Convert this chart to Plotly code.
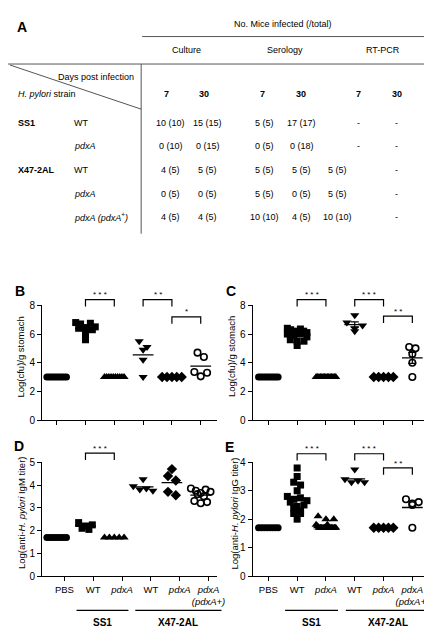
import numpy as np
import plotly.graph_objects as go

W, H = 432, 629
FONT = "Liberation Sans, Arial, sans-serif"

# ---------------- data: table (panel A) ----------------
methods = ["Culture", "Serology", "RT-PCR"]
days = ["7", "30", "7", "30", "7", "30"]
strains = ["SS1", "", "X47-2AL", "", ""]
genotypes = ["WT", "<i>pdxA</i>", "WT", "<i>pdxA</i>", "<i>pdxA (pdxA</i><sup>+</sup><i>)</i>"]
infected = [
    ["10 (10)", "15 (15)", "5 (5)", "17 (17)", "-", "-"],
    ["0 (10)", "0 (15)", "0 (5)", "0 (18)", "-", "-"],
    ["4 (5)", "5 (5)", "5 (5)", "5 (5)", "5 (5)", "-"],
    ["0 (5)", "0 (5)", "5 (5)", "0 (5)", "5 (5)", "-"],
    ["4 (5)", "4 (5)", "10 (10)", "4 (5)", "10 (10)", "-"],
]

# ---------------- data: dot plots ----------------
group_labels = ["PBS", "WT", "<i>pdxA</i>", "WT", "<i>pdxA</i>", "<i>pdxA</i><br><i>(pdxA+)</i>"]
symbols = ["circle", "square", "triangle-up", "triangle-down", "diamond", "circle-open"]

# B: Log(cfu)/g stomach, day 7
b_pbs = [3.0] * 10
b_ss1_wt = [6.8, 6.75, 6.7, 6.5, 6.45, 6.4, 6.3, 6.2, 6.0, 5.6]
b_ss1_pdxa = [3.0] * 10
b_x47_wt = [5.5, 5.1, 4.9, 4.2, 3.0]
b_x47_pdxa = [3.0] * 5
b_x47_comp = [4.7, 4.4, 3.35, 3.3, 3.05]

# C: Log(cfu)/g stomach, day 30
c_pbs = [3.0] * 10
c_ss1_wt = [6.4, 6.35, 6.3, 6.2, 6.2, 6.1, 6.1, 6.0, 6.0, 5.9, 5.8, 5.6, 5.5, 5.5, 5.2]
c_ss1_pdxa = [3.0] * 15
c_x47_wt = [7.3, 6.8, 6.6, 6.4, 6.2]
c_x47_pdxa = [3.0] * 5
c_x47_comp = [5.1, 5.0, 4.6, 4.0, 3.0]

# D: Log(anti-H. pylori IgM titer)
d_pbs = [1.7] * 8
d_ss1_wt = [2.35, 2.25, 2.2, 2.1, 2.05]
d_ss1_pdxa = [1.7] * 5
d_x47_wt = [4.25, 3.95, 3.85, 3.8, 3.75]
d_x47_pdxa = [4.7, 4.4, 4.2, 3.7, 3.55]
d_x47_comp = [3.85, 3.8, 3.75, 3.7, 3.65, 3.6, 3.5, 3.3, 3.25, 3.2]

# E: Log(anti-H. pylori IgG titer)
e_pbs = [1.7] * 8
e_ss1_wt = [3.8, 3.5, 3.3, 3.2, 3.0, 2.8, 2.75, 2.7, 2.65, 2.6, 2.5, 2.45, 2.4, 2.3, 2.2, 2.2, 2.0]
e_ss1_pdxa = [2.1, 2.0, 2.0, 1.8, 1.8, 1.75] + [1.7] * 12
e_x47_wt = [3.75, 3.4, 3.35, 3.3, 3.3]
e_x47_pdxa = [1.7] * 5
e_x47_comp = [2.7, 2.6, 2.55, 2.5, 1.7]

# significance brackets: (group a, group b, level, stars)
b_sig = [(1, 2, 8.4, "* * *"), (3, 4, 8.4, "* *"), (4, 5, 7.2, "*")]
c_sig = [(1, 2, 8.4, "* * *"), (3, 4, 8.4, "* * *"), (4, 5, 7.25, "* *")]
d_sig = [(1, 2, 5.4, "* * *")]
e_sig = [(1, 2, 4.3, "* * *"), (3, 4, 4.3, "* * *"), (4, 5, 3.8, "* *")]

# ---------------- panel geometry (pixels) ----------------
panels = {
    "B": dict(ax="", data=[b_pbs, b_ss1_wt, b_ss1_pdxa, b_x47_wt, b_x47_pdxa, b_x47_comp],
              x=(35, 213), y=(414, 297), xr=(-0.5, 5.55), yr=(0, 8), yt=[0, 2, 4, 6, 8],
              sig=b_sig, sem=False, labels=False, tickshift=0.0,
              title="Log(cfu)/g stomach", tx=13, letter=(12, 282)),
    "C": dict(ax="2", data=[c_pbs, c_ss1_wt, c_ss1_pdxa, c_x47_wt, c_x47_pdxa, c_x47_comp],
              x=(250, 430), y=(414, 297), xr=(-0.54, 5.58), yr=(0, 8), yt=[0, 2, 4, 6, 8],
              sig=c_sig, sem=True, labels=False, tickshift=0.0,
              title="Log(cfu)/g stomach", tx=229, letter=(228, 282)),
    "D": dict(ax="3", data=[d_pbs, d_ss1_wt, d_ss1_pdxa, d_x47_wt, d_x47_pdxa, d_x47_comp],
              x=(35, 213), y=(573, 457), xr=(-0.5, 5.55), yr=(0, 5), yt=[0, 1, 2, 3, 4, 5],
              sig=d_sig, sem=False, labels=True, tickshift=0.27,
              title="Log(anti-<i>H. pylori</i> IgM titer)", tx=14, letter=(11, 440)),
    "E": dict(ax="4", data=[e_pbs, e_ss1_wt, e_ss1_pdxa, e_x47_wt, e_x47_pdxa, e_x47_comp],
              x=(250, 430), y=(573, 457), xr=(-0.54, 5.58), yr=(0, 4), yt=[0, 1, 2, 3, 4],
              sig=e_sig, sem=False, labels=True, tickshift=0.0,
              title="Log(anti-<i>H. pylori</i> IgG titer)", tx=231, letter=(226, 441)),
}


def px2paper(px, py):
    return px / W, 1 - py / H


def data2px(p, xv, yv):
    x0, x1 = p["x"]
    yb, yt = p["y"]
    xr0, xr1 = p["xr"]
    yr0, yr1 = p["yr"]
    px = x0 + (xv - xr0) / (xr1 - xr0) * (x1 - x0)
    py = yb - (yv - yr0) / (yr1 - yr0) * (yb - yt)
    return px, py


def swarm(vals, ppu_y, ppu_x, msize=7.0, maxw=20.0):
    vals = np.asarray(vals, float)
    order = np.argsort(-vals, kind="stable")
    offs = np.zeros(len(vals))
    clusters, cur = [], []
    for i in order:
        if cur and (vals[cur[0]] - vals[i]) * ppu_y > 0.8 * msize:
            clusters.append(cur)
            cur = []
        cur.append(i)
    if cur:
        clusters.append(cur)
    for c in clusters:
        m = len(c)
        if m == 1:
            continue
        sp = min(msize, maxw / (m - 1))
        idx = sorted(range(m), key=lambda k: (k % 2, k))
        for slot, k in enumerate(idx):
            offs[c[k]] = (slot - (m - 1) / 2) * sp
    return offs / ppu_x


fig = go.Figure()
shapes = []
annotations = []
layout_axes = {}

for name, p in panels.items():
    ax = p["ax"]
    xa, ya = "x" + ax, "y" + ax
    ppu_x = (p["x"][1] - p["x"][0]) / (p["xr"][1] - p["xr"][0])
    ppu_y = (p["y"][0] - p["y"][1]) / (p["yr"][1] - p["yr"][0])
    for g, vals in enumerate(p["data"]):
        sym = symbols[g]
        size = {"circle": 7, "square": 7, "triangle-up": 8, "triangle-down": 8,
                "diamond": 8, "circle-open": 6.5}[sym]
        offs = swarm(vals, ppu_y, ppu_x, msize=size)
        fig.add_trace(go.Scatter(
            x=g + offs, y=vals, mode="markers", xaxis=xa, yaxis=ya,
            marker=dict(symbol=sym, size=size, color="black",
                        line=dict(color="black", width=1.6 if sym == "circle-open" else 0)),
            cliponaxis=False, showlegend=False, hoverinfo="y"))
        m = float(np.mean(vals))
        fig.add_trace(go.Scatter(
            x=[g - 0.36, g + 0.36], y=[m, m], mode="lines", xaxis=xa, yaxis=ya,
            line=dict(color="black", width=1.3), showlegend=False, hoverinfo="skip",
            cliponaxis=False))
        if p["sem"]:
            sem = float(np.std(vals, ddof=1) / np.sqrt(len(vals)))
            if sem > 0:
                fig.add_trace(go.Scatter(
                    x=[g, g, None, g - 0.14, g + 0.14, None, g - 0.14, g + 0.14],
                    y=[m - sem, m + sem, None, m - sem, m - sem, None, m + sem, m + sem],
                    mode="lines", xaxis=xa, yaxis=ya, line=dict(color="black", width=1.2),
                    showlegend=False, hoverinfo="skip", cliponaxis=False))
    xd = (p["x"][0] / W, p["x"][1] / W)
    yd = (1 - p["y"][0] / H, 1 - p["y"][1] / H)
    tv = [i + p["tickshift"] for i in range(6)]
    xax = dict(
        domain=list(xd), range=list(p["xr"]), anchor=ya, showline=True, linecolor="black",
        linewidth=1.3, ticks="outside", ticklen=4, tickwidth=1.2, tickcolor="black",
        tickvals=tv, showticklabels=p["labels"], tickangle=0, showgrid=False, zeroline=False,
        tickfont=dict(family=FONT, size=9.5, color="black"))
    if p["labels"]:
        xax["ticktext"] = group_labels
    layout_axes["xaxis" + ax] = xax
    layout_axes["yaxis" + ax] = dict(
        domain=list(yd), range=list(p["yr"]), anchor=xa, showline=True, linecolor="black",
        linewidth=1.3, ticks="outside", ticklen=4, tickwidth=1.2, tickcolor="black",
        tickvals=p["yt"], showgrid=False, zeroline=False,
        tickfont=dict(family=FONT, size=10, color="black"))
    cx, cy = px2paper(p["tx"], (p["y"][0] + p["y"][1]) / 2 - 6)
    annotations.append(dict(text=p["title"], x=cx, y=cy, xref="paper", yref="paper",
                            textangle=-90, showarrow=False, xanchor="center", yanchor="middle",
                            font=dict(family=FONT, size=9.5, color="black")))
    lx, ly = px2paper(*p["letter"])
    annotations.append(dict(text="<b>%s</b>" % name, x=lx, y=ly, xref="paper", yref="paper",
                            showarrow=False, xanchor="center", yanchor="middle",
                            font=dict(family=FONT, size=14, color="black")))
    for a, b, lev, stars in p["sig"]:
        xa_px, ytop = data2px(p, a, lev)
        xb_px, _ = data2px(p, b, lev)
        leg = 7
        pa = px2paper(xa_px, ytop + leg)
        pb = px2paper(xa_px, ytop)
        pc = px2paper(xb_px, ytop)
        pd = px2paper(xb_px, ytop + leg)
        shapes.append(dict(type="path", xref="paper", yref="paper",
                           path="M %f,%f L %f,%f L %f,%f L %f,%f" % (pa + pb + pc + pd),
                           line=dict(color="black", width=1.2)))
        sx, sy = px2paper((xa_px + xb_px) / 2, ytop - 5)
        annotations.append(dict(text=stars, x=sx, y=sy, xref="paper", yref="paper",
                                showarrow=False, xanchor="center", yanchor="middle",
                                font=dict(family=FONT, size=8, color="black")))

# group underlines below D and E
for (x0, x1, lab, xl) in [(70, 123, "SS1", 97), (130, 218, "X47-2AL", 174),
                          (283, 337, "SS1", 310), (345, 431, "X47-2AL", 388)]:
    a = px2paper(x0, 608)
    b = px2paper(x1, 608)
    shapes.append(dict(type="line", xref="paper", yref="paper", x0=a[0], y0=a[1], x1=b[0], y1=b[1],
                       line=dict(color="black", width=1.3)))
    tx, ty = px2paper(xl, 620)
    annotations.append(dict(text="<b>%s</b>" % lab, x=tx, y=ty, xref="paper", yref="paper",
                            showarrow=False, xanchor="center", yanchor="middle",
                            font=dict(family=FONT, size=10, color="black")))

# ---------------- table (panel A) ----------------
TF = dict(family=FONT, size=9, color="black")


def add_text(txt, px, py, anchor="center", bold=False):
    x, y = px2paper(px, py)
    annotations.append(dict(text=("<b>%s</b>" % txt) if bold else txt, x=x, y=y,
                            xref="paper", yref="paper", showarrow=False,
                            xanchor=anchor, yanchor="middle", font=TF))


def add_line(x0, y0, x1, y1):
    a = px2paper(x0, y0)
    b = px2paper(x1, y1)
    shapes.append(dict(type="line", xref="paper", yref="paper", x0=a[0], y0=a[1],
                       x1=b[0], y1=b[1], line=dict(color="#555555", width=1)))


annotations.append(dict(text="<b>A</b>", x=14 / W, y=1 - 13 / H, xref="paper", yref="paper",
                        showarrow=False, xanchor="center", yanchor="middle",
                        font=dict(family=FONT, size=14, color="black")))
add_text("No. Mice infected (/total)", 281, 10)
add_line(137, 23, 428, 23)
for mname, mx in zip(methods, [182, 283, 383]):
    add_text(mname, mx, 37)
add_line(0, 51, 428, 51)
add_line(136, 51, 136, 224)
add_line(2, 52, 136, 97)
add_text("Days post infection", 131, 64, anchor="right")
add_text("<i>H. pylori</i> strain", 8, 82, anchor="left")
head_x = [162, 200, 260, 299, 358, 397]
for d, hx in zip(days, head_x):
    add_text(d, hx, 82, bold=True)
row_y = [111, 135, 159, 183, 207]
val_x = [166, 204, 262, 300, 337, 397]
for r, ry in enumerate(row_y):
    if strains[r]:
        add_text(strains[r], 8, ry, anchor="left", bold=True)
    add_text(genotypes[r], 65, ry, anchor="left")
    for c, v in enumerate(infected[r]):
        vx = 358 if (c == 4 and v == "-") else val_x[c]
        add_text(v, vx, ry)

fig.update_layout(
    width=W, height=H, margin=dict(l=0, r=0, t=0, b=0),
    paper_bgcolor="white", plot_bgcolor="white", showlegend=False,
    shapes=shapes, annotations=annotations, font=dict(family=FONT, color="black"),
    **layout_axes)

fig.write_html("out.html")
